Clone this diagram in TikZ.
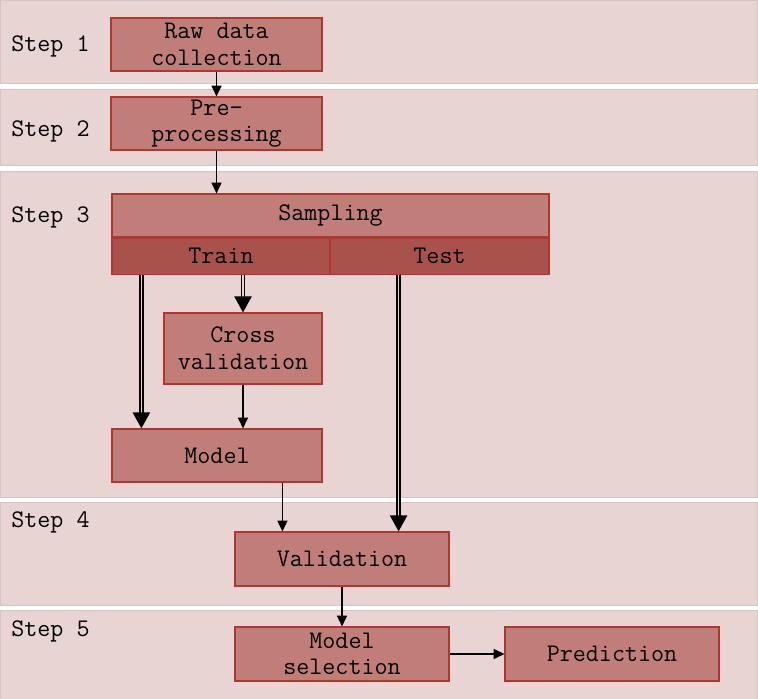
\documentclass[tikz,border=0pt]{standalone}
\usepackage{fontspec}
\usetikzlibrary{arrows.meta,calc,positioning}
\definecolor{bandpink}{HTML}{E8D5D3}
\definecolor{boxred}{HTML}{C17E79}
\definecolor{splitred}{HTML}{A8524B}
\definecolor{edgered}{HTML}{B0372F}
\tikzstyle{band} = [fill=bandpink, draw=bandpink!92!black, line width=0.4pt]
\tikzstyle{stage} = [rectangle, draw=edgered, fill=boxred, line width=0.9pt, align=center, inner sep=0pt, font=\ttfamily\fontsize{19}{20}\selectfont]
\tikzstyle{splitbox} = [stage, fill=splitred]
\tikzstyle{steplabel} = [anchor=west, inner sep=0pt, font=\ttfamily\fontsize{19}{20}\selectfont]
\tikzstyle{flow} = [black, draw, line width=0.8pt, -{Triangle[length=8pt,width=7.5pt]}]
\tikzstyle{bigflow} = [black, draw, double=bandpink, line width=1pt, double distance=1.3pt, -{Triangle[length=12pt,width=13pt]}]

\begin{document}
\begin{tikzpicture}[x=0.75pt,y=-0.75pt]
            \useasboundingbox (0,0) rectangle (758,699);

            % step bands
            \path[band] (0,0) rectangle (757,83);
            \path[band] (0,89) rectangle (757,165);
            \path[band] (0,171) rectangle (757,497);
            \path[band] (0,502) rectangle (757,605);
            \path[band] (0,610) rectangle (757,699);

            \node[steplabel] at (11,46) (S1) {Step 1};
            \node[steplabel] at (11,131) (S2) {Step 2};
            \node[steplabel] at (11,217) (S3) {Step 3};
            \node[steplabel] at (11,522) (S4) {Step 4};
            \node[steplabel] at (11,631) (S5) {Step 5};

            % boxes
            \node[stage, minimum width=211*0.75pt, minimum height=53*0.75pt] at (216.5,44.5) (Raw) {Raw data\\collection};
            \node[stage, minimum width=211*0.75pt, minimum height=53*0.75pt] at (216.5,123.5) (Pre) {Pre-\\processing};
            \node[stage, minimum width=437*0.75pt, minimum height=43*0.75pt] at (330.5,215.5) (Sampling) {Sampling};
            \node[splitbox, anchor=north west, minimum width=218*0.75pt, minimum height=36*0.75pt] at (Sampling.south west) (Train) {Train};
            \node[splitbox, anchor=north east, minimum width=219*0.75pt, minimum height=36*0.75pt] at (Sampling.south east) (Test) {Test};
            \node[stage, minimum width=158*0.75pt, minimum height=71*0.75pt] at (243,348.5) (Cross) {Cross\\validation};
            \node[stage, minimum width=210*0.75pt, minimum height=53*0.75pt] at (217,455.5) (Model) {Model};
            \node[stage, minimum width=214*0.75pt, minimum height=54*0.75pt] at (342,559) (Valid) {Validation};
            \node[stage, minimum width=214*0.75pt, minimum height=54*0.75pt] at (342,654) (ModelSel) {Model\\selection};
            \node[stage, minimum width=214*0.75pt, minimum height=54*0.75pt] at (612,654) (Pred) {Prediction};

            \coordinate (ModelIn) at ($(Model.north west) + (30,0)$);
            \coordinate (TestIn) at ($(Valid.north east) + (-51,0)$);
            \coordinate (ModelOut) at ($(Valid.north west) + (48,0)$);

            \path[flow]
                (Raw) -- (Pre);
            \path[flow]
                (Pre.south) -- (Pre.south |- Sampling.north);
            \path[bigflow]
                (Train.south -| ModelIn) -- (ModelIn);
            \path[bigflow]
                (Train.south -| Cross.north) -- (Cross.north);
            \path[bigflow]
                (Test.south -| TestIn) -- (TestIn);
            \path[flow]
                (Cross.south) -- (Cross.south |- Model.north);
            \path[flow]
                (Model.south -| ModelOut) -- (ModelOut);
            \path[flow]
                (Valid) -- (ModelSel);
            \path[flow]
                (ModelSel) -- (Pred);

        \end{tikzpicture}
\end{document}
